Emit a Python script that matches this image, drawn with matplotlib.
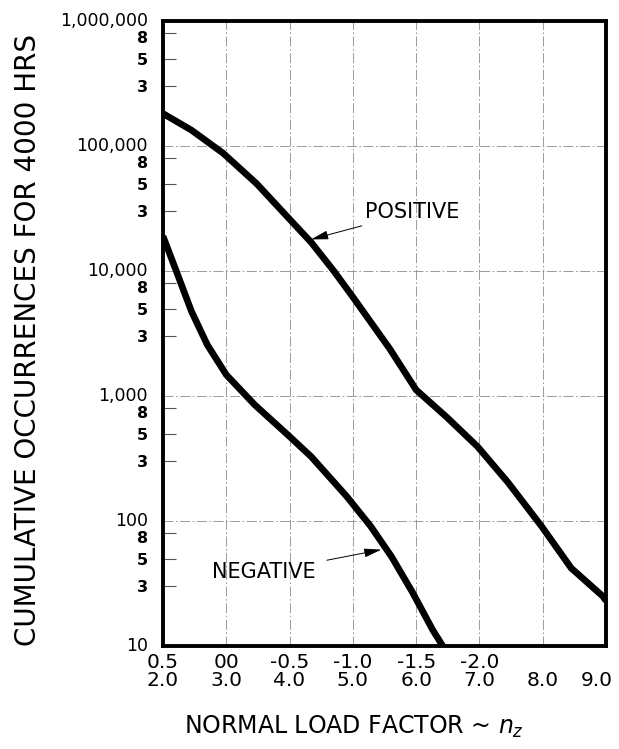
import numpy as np
import matplotlib
matplotlib.use('Agg')
import matplotlib.pyplot as plt
import matplotlib.transforms as mtransforms
from matplotlib.ticker import FixedLocator, FixedFormatter

# values
pos_x = [2.0, 2.45, 2.95, 3.48, 3.97, 4.34, 4.70, 5.0, 5.58, 6.0, 6.48, 6.97, 7.45, 7.98, 8.45, 8.95, 9.0]
pos_y = [182000, 134000, 87700, 50000, 27000, 17000, 10000, 6200, 2400, 1120, 680, 394, 204, 91, 42, 25, 23]

neg_x = [2.0, 2.1, 2.21, 2.45, 2.70, 3.0, 3.45, 3.97, 4.34, 4.90, 5.28, 5.61, 5.94, 6.26, 6.42]
neg_y = [19000, 14000, 10000, 4760, 2570, 1480, 850, 490, 328, 158, 91, 52, 27, 13.5, 10]

x_ticks = [2, 3, 4, 5, 6, 7, 8, 9]
x_top_labels = ['0.5', '00', '-0.5', '-1.0', '-1.5', '-2.0', '', '']
x_bot_labels = ['2.0', '3.0', '4.0', '5.0', '6.0', '7.0', '8.0', '9.0']

y_major = [10, 100, 1000, 10000, 100000, 1000000]
y_major_labels = ['10', '100', '1,000', '10,000', '100,000', '1,000,000']
y_minor_mult = [3, 5, 8]

fig = plt.figure(figsize=(6.19, 7.49), dpi=100)
ax = fig.add_axes([0.2633, 0.1375, 0.7157, 0.8344])

ax.plot(pos_x, pos_y, color='black', lw=4.8, solid_capstyle='butt', solid_joinstyle='round')
ax.plot(neg_x, neg_y, color='black', lw=4.8, solid_capstyle='butt', solid_joinstyle='round')

ax.set_yscale('log')
ax.set_xlim(2, 9)
ax.set_ylim(10, 1000000)

# grid
for xv in x_ticks[1:-1]:
    ax.axvline(xv, color='#8a8a8a', lw=0.6, ls=(0, (12, 3, 2, 3)), zorder=0)
for yv in y_major[1:-1]:
    ax.axhline(yv, color='#8a8a8a', lw=0.6, ls=(0, (12, 3, 2, 3)), zorder=0)

ax.xaxis.set_major_locator(FixedLocator(x_ticks))
ax.xaxis.set_major_formatter(FixedFormatter([t + '\n' + b for t, b in zip(x_top_labels, x_bot_labels)]))
ax.xaxis.set_minor_locator(FixedLocator([]))
ax.tick_params(axis='x', which='major', length=0, pad=5, labelsize=14.5)

ax.yaxis.set_major_locator(FixedLocator(y_major))
ax.yaxis.set_major_formatter(FixedFormatter(y_major_labels))
minor_vals = [m * 10 ** k for k in range(1, 6) for m in y_minor_mult]
ax.yaxis.set_minor_locator(FixedLocator(minor_vals))
ax.yaxis.set_minor_formatter(FixedFormatter([str(m) for k in range(1, 6) for m in y_minor_mult]))
ax.tick_params(axis='y', which='major', length=0, pad=11, labelsize=12.5)
ax.tick_params(axis='y', which='minor', direction='in', length=9.5, width=0.8,
               color='#555555', pad=11, labelsize=11.5)

# small nudges so crowded labels don't collide
xlabels = ax.get_xticklabels()
for lbl in xlabels:
    lbl.set_linespacing(0.95)
xlabels[-1].set_transform(xlabels[-1].get_transform() +
                          mtransforms.ScaledTranslation(-0.09, 0, fig.dpi_scale_trans))
for lbl in ax.get_yticklabels():
    lbl.set_transform(lbl.get_transform() +
                      mtransforms.ScaledTranslation(0, 0.025, fig.dpi_scale_trans))
for lbl in ax.get_yticklabels(minor=True):
    lbl.set_fontweight('bold')
    if lbl.get_text() == '8':
        lbl.set_transform(lbl.get_transform() +
                          mtransforms.ScaledTranslation(0, -0.035, fig.dpi_scale_trans))

for s in ax.spines.values():
    s.set_linewidth(2.8)

ax.set_ylabel('CUMULATIVE OCCURRENCES FOR 4000 HRS', fontsize=20)
ax.yaxis.set_label_coords(-0.305, 0.49)
ax.yaxis.label.set_va('center')
ax.set_xlabel('NORMAL LOAD FACTOR ~ $n_z$', fontsize=17)
ax.xaxis.set_label_coords(0.43, -0.13)
ax.xaxis.label.set_va('center')

ax.annotate('POSITIVE', xy=(4.34, 17900), xytext=(5.19, 29500), fontsize=15,
            va='center', ha='left',
            arrowprops=dict(arrowstyle='-|>,head_length=0.7,head_width=0.18',
                            color='black', lw=0.7, shrinkA=2, shrinkB=0))
ax.annotate('NEGATIVE', xy=(5.45, 59), xytext=(2.78, 38.8), fontsize=15,
            va='center', ha='left',
            arrowprops=dict(arrowstyle='-|>,head_length=0.7,head_width=0.18',
                            color='black', lw=0.7, shrinkA=6, shrinkB=0))

fig.savefig('out.png', dpi=100)
